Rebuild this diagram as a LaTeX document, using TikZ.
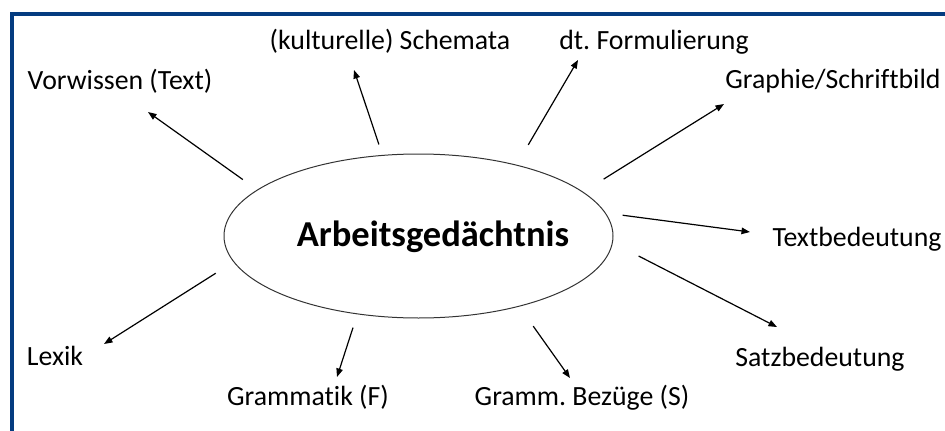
\documentclass[tikz,border=0pt]{standalone}
\usepackage{fontspec}
\setmainfont[Ligatures={NoCommon}]{Carlito}
\usepackage{xcolor}
\usetikzlibrary{
    arrows.meta,
    shapes,
    calc
}
\definecolor{frameblue}{RGB}{4,60,128}
\frenchspacing

\begin{document}
\begin{tikzpicture}[x=1pt, y=-1pt, >={Triangle[length=8.5pt, width=6.5pt]},
                label-node/.style={anchor=base, inner sep=0pt, font=\fontsize{27.8}{33}\selectfont},
                memory-node/.style={ellipse, draw=black!80, line width=1pt, minimum width=389pt, minimum height=164pt, inner sep=0pt},
                link/.style={->, line width=1.2pt}]
                \useasboundingbox (0,0) rectangle (945,431);
                \draw [frameblue, line width=4pt, line join=miter] (12,440) -- (12,14) -- (950,14);
                \node [memory-node] (memory) at (418.5,236) {};
                \node [anchor=base, inner sep=0pt, font=\bfseries\fontsize{36.5}{44}\selectfont] (title) at (433,246) {Arbeitsgedächtnis};
                \node [label-node] (vorwissen) at (120,89) {Vorwissen (Text)};
                \node [label-node] (schemata) at (390,49) {(kulturelle) Schemata};
                \node [label-node] (formulierung) at (654,49) {dt. Formulierung};
                \node [label-node] (graphie) at (833,88) {Graphie/Schriftbild};
                \node [label-node] (textbed) at (857,246) {Textbedeutung};
                \node [label-node] (satzbed) at (820,366) {Satzbedeutung};
                \node [label-node] (bezuege) at (582,405) {Gramm. Bezüge (S)};
                \node [label-node] (grammatik) at (308,405) {Grammatik (F)};
                \node [label-node] (lexik) at (55,365) {Lexik};
                \coordinate (vorwissen-tip) at (148,112);
                \coordinate (schemata-tip) at (354,70);
                \coordinate (formulierung-tip) at (578,60);
                \coordinate (graphie-tip) at (724,104);
                \coordinate (textbed-tip) at (750,232);
                \coordinate (satzbed-tip) at (777,327);
                \coordinate (bezuege-tip) at (570,378);
                \coordinate (grammatik-tip) at (337,377);
                \coordinate (lexik-tip) at (104,344);
                \draw [link, shorten <=17.5pt] (memory.164) -- (vorwissen-tip);
                \draw [link, shorten <=11pt] (memory.114) -- (schemata-tip);
                \draw [link, shorten <=23pt] (memory.36) -- (formulierung-tip);
                \draw [link, shorten <=24pt] (memory.15) -- (graphie-tip);
                \draw [link, shorten <=17pt] (memory.7) -- (textbed-tip);
                \draw [link, shorten <=29pt] (memory.-2) -- (satzbed-tip);
                \draw [link, shorten <=24pt] (memory.-35) -- (bezuege-tip);
                \draw [link, shorten <=14pt] (memory.-128) -- (grammatik-tip);
                \draw [link, shorten <=21pt] (memory.188) -- (lexik-tip);
            \end{tikzpicture}
\end{document}
